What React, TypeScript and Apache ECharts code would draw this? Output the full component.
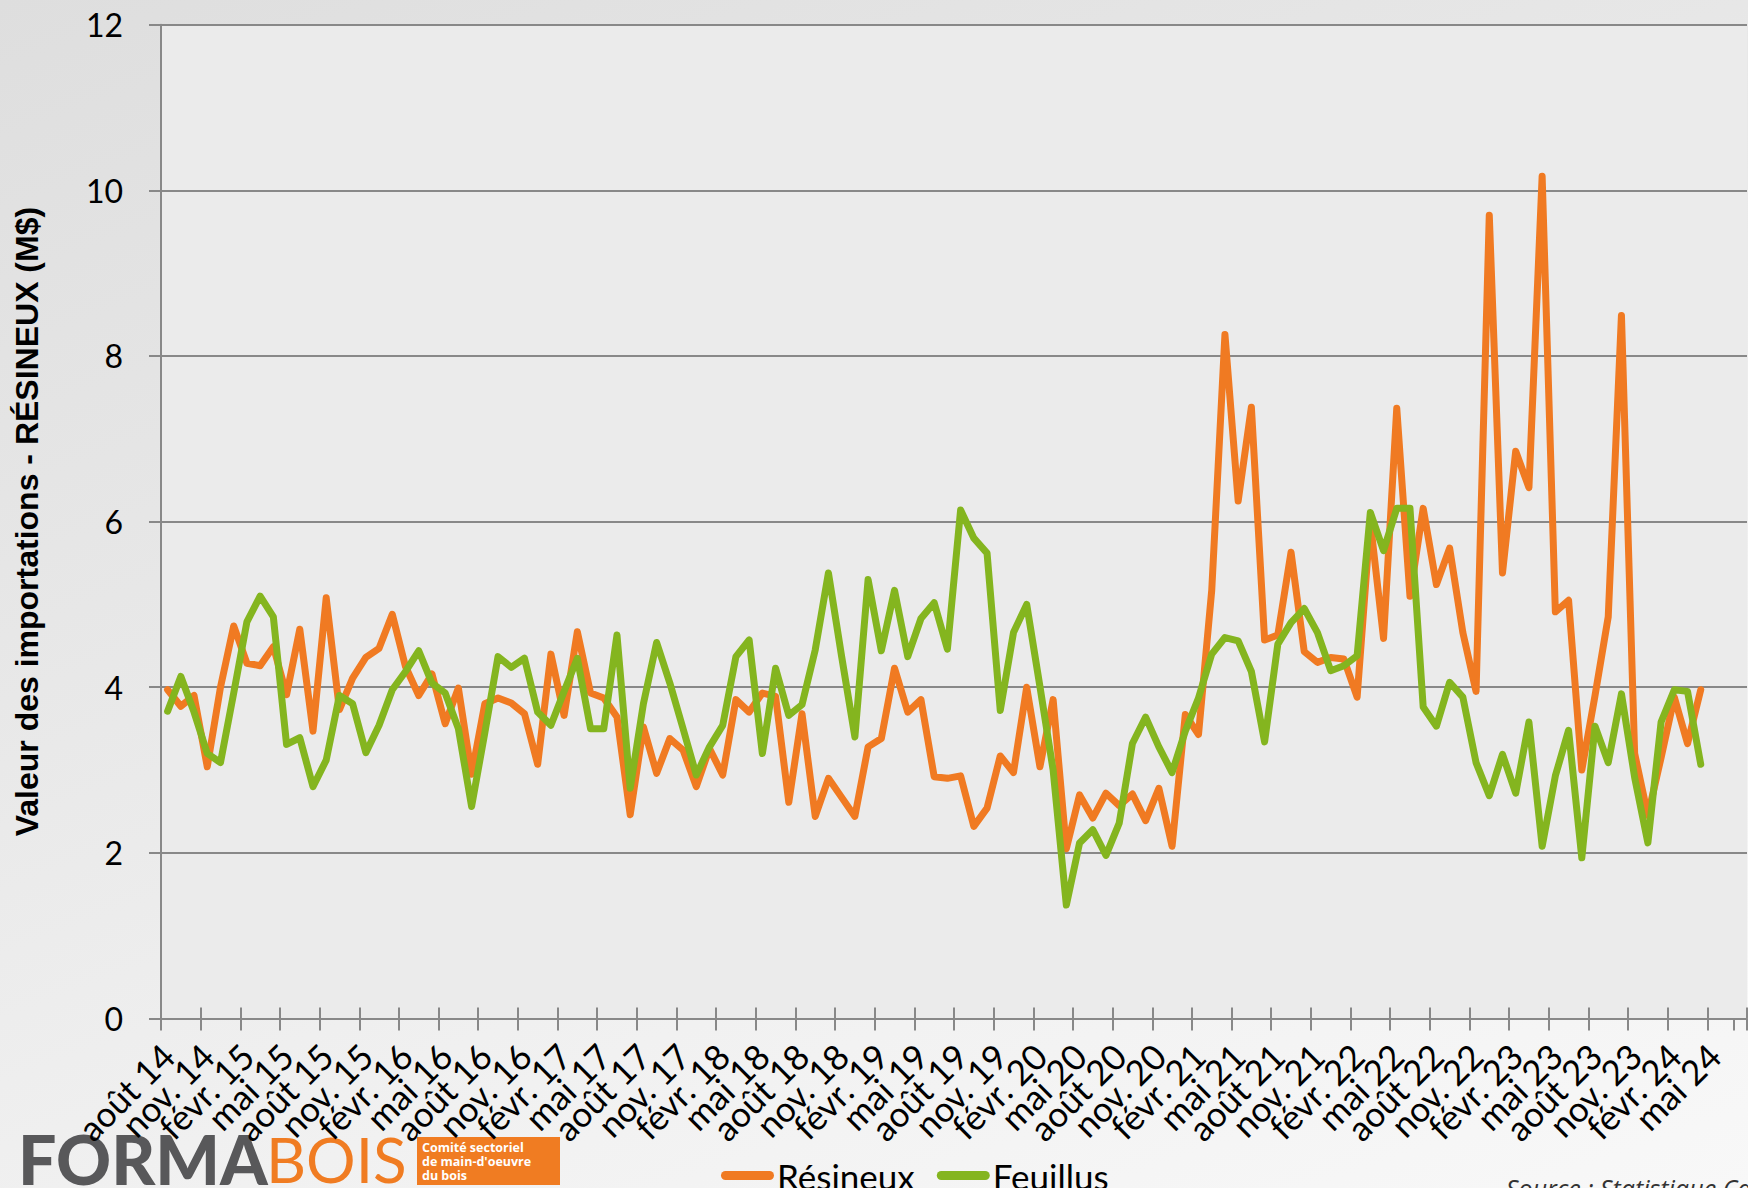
import React, { useEffect, useRef } from "react";
import * as echarts from "echarts";

// Month abbreviations (French) used for the category axis
const MONTHS = ["janv.", "févr.", "mars", "avr.", "mai", "juin", "juil.", "août", "sept.", "oct.", "nov.", "déc."];
// Axis runs from août 14 to juil. 24 (120 monthly categories)
const START_YEAR = 14;
const START_MONTH_INDEX = 7;
const CATEGORY_COUNT = 120;
const LABEL_EVERY = 3;
const LAST_LABEL_INDEX = 117; // "mai 24"

// Résineux (M$), août 2014 → avr. 2024
const resineux = [
  3.97, 3.77, 3.9, 3.04, 4.0, 4.74, 4.29, 4.26, 4.49, 3.91,
  4.7, 3.47, 5.08, 3.73, 4.11, 4.36, 4.47, 4.88, 4.25, 3.9,
  4.16, 3.56, 3.99, 2.95, 3.8, 3.87, 3.81, 3.68, 3.07, 4.4,
  3.66, 4.67, 3.93, 3.87, 3.64, 2.46, 3.52, 2.96, 3.38, 3.24,
  2.8, 3.26, 2.94, 3.85, 3.7, 3.93, 3.89, 2.61, 3.68, 2.44,
  2.9, 2.67, 2.44, 3.28, 3.38, 4.23, 3.7, 3.85, 2.92, 2.9,
  2.93, 2.32, 2.54, 3.17, 2.97, 4.0, 3.04, 3.85, 2.05, 2.7,
  2.42, 2.72, 2.57, 2.71, 2.39, 2.78, 2.08, 3.67, 3.43, 5.17,
  8.26, 6.25, 7.38, 4.57, 4.63, 5.63, 4.43, 4.3, 4.36, 4.34,
  3.88, 6.0, 4.59, 7.37, 5.1, 6.16, 5.24, 5.68, 4.66, 3.95,
  9.7, 5.38, 6.85, 6.41, 10.17, 4.91, 5.05, 3.0, 3.9, 4.85,
  8.49, 3.2, 2.45, 3.15, 3.88, 3.32, 3.97,
];

// Feuillus (M$), août 2014 → avr. 2024
const feuillus = [
  3.71, 4.13, 3.7, 3.2, 3.09, 3.93, 4.79, 5.1, 4.85, 3.31,
  3.39, 2.8, 3.12, 3.9, 3.8, 3.21, 3.54, 3.97, 4.19, 4.44,
  4.05, 3.93, 3.5, 2.56, 3.45, 4.37, 4.24, 4.35, 3.7, 3.54,
  3.95, 4.35, 3.5, 3.5, 4.63, 2.78, 3.8, 4.54, 4.05, 3.5,
  2.94, 3.28, 3.54, 4.37, 4.57, 3.2, 4.23, 3.66, 3.79, 4.45,
  5.38, 4.37, 3.4, 5.3, 4.44, 5.17, 4.37, 4.83, 5.02, 4.46,
  6.14, 5.8, 5.62, 3.72, 4.66, 5.0, 4.01, 3.0, 1.37, 2.12,
  2.28, 1.97, 2.36, 3.32, 3.64, 3.28, 2.97, 3.47, 3.87, 4.4,
  4.6, 4.56, 4.19, 3.34, 4.52, 4.78, 4.95, 4.66, 4.2, 4.26,
  4.38, 6.11, 5.65, 6.16, 6.16, 3.76, 3.53, 4.06, 3.88, 3.09,
  2.69, 3.19, 2.72, 3.58, 2.08, 2.93, 3.48, 1.94, 3.53, 3.09,
  3.92, 2.91, 2.12, 3.58, 3.97, 3.95, 3.07,
];

const Y_MIN = 0;
const Y_MAX = 12;
const Y_STEP = 2;

const SERIES_NAMES = ["Résineux", "Feuillus"];
const TITLE_Y = "Valeur des importations - RÉSINEUX (M$)";
const SOURCE = "Source : Statistique Canada";
const LOGO_LINES = ["Comité sectoriel", "de main-d'oeuvre", "du bois"];

const categories: string[] = [];
for (let i = 0; i < CATEGORY_COUNT; i++) {
  const m = (START_MONTH_INDEX + i) % 12;
  const y = START_YEAR + Math.floor((START_MONTH_INDEX + i) / 12);
  categories.push(`${MONTHS[m]} ${y}`);
}

const ORANGE = "#f07a22";
const GREEN = "#84b51f";
const AXIS_GRAY = "#888888";

export default function App() {
  const ref = useRef<HTMLDivElement>(null);

  useEffect(() => {
    if (!ref.current) return;
    const chart = echarts.init(ref.current, undefined, { renderer: "svg" });
    const axisLine = { color: AXIS_GRAY, width: 2 };
    const labelFormatter = (value: string, index: number) =>
      index % LABEL_EVERY === 0 && index <= LAST_LABEL_INDEX ? value : "";
    const option: any = {
      animation: false,
      backgroundColor: "transparent",
      textStyle: { fontFamily: "Lato" },
      grid: {
        left: 161,
        right: 1,
        top: 24.7,
        bottom: 169.5,
        show: true,
        backgroundColor: "#ebebeb",
        borderWidth: 0,
        containLabel: false,
        outerBoundsMode: "none",
      },
      legend: {
        left: 716,
        top: 1153,
        itemWidth: 53,
        itemHeight: 9,
        itemGap: 22,
        icon: "path://M4.5,0 H48.5 A4.5,4.5 0 0 1 48.5,9 H4.5 A4.5,4.5 0 0 1 4.5,0 Z",
        textStyle: { fontSize: 35, color: "#000", fontFamily: "Lato", padding: [0, 0, 0, -2] },
        data: SERIES_NAMES,
      },
      xAxis: [
        {
          type: "category",
          data: categories,
          boundaryGap: true,
          axisLine: { show: true, lineStyle: axisLine },
          axisTick: { show: true, interval: 2, length: 12, lineStyle: axisLine },
          axisLabel: {
            interval: 0,
            formatter: labelFormatter,
            rotate: 45,
            fontSize: 35,
            color: "#000",
            margin: 31,
            fontFamily: "Lato",
            hideOverlap: false,
          },
          splitLine: { show: false },
        },
        {
          type: "category",
          data: categories,
          position: "bottom",
          boundaryGap: true,
          axisLine: { show: false },
          axisTick: { show: true, inside: true, interval: 2, length: 11, lineStyle: axisLine },
          axisLabel: { show: false },
          splitLine: { show: false },
        },
      ],
      yAxis: {
        type: "value",
        min: Y_MIN,
        max: Y_MAX,
        interval: Y_STEP,
        axisLine: { show: true, lineStyle: axisLine },
        axisTick: { show: true, length: 12, lineStyle: axisLine },
        splitLine: { show: true, lineStyle: { color: AXIS_GRAY, width: 2 } },
        axisLabel: { fontSize: 32, color: "#000", margin: 38, fontFamily: "Lato" },
        name: TITLE_Y,
        nameLocation: "middle",
        nameGap: 118,
        nameRotate: 90,
        nameTextStyle: {
          fontFamily: "Liberation Sans",
          fontWeight: "bold",
          fontSize: 32,
          color: "#000",
        },
      },
      series: [
        {
          name: SERIES_NAMES[0],
          type: "line",
          data: resineux,
          symbol: "none",
          lineStyle: { color: ORANGE, width: 7, cap: "round", join: "round" },
          itemStyle: { color: ORANGE },
        },
        {
          name: SERIES_NAMES[1],
          type: "line",
          data: feuillus,
          symbol: "none",
          lineStyle: { color: GREEN, width: 7, cap: "round", join: "round" },
          itemStyle: { color: GREEN },
        },
      ],
      graphic: [
        {
          type: "text",
          left: 18,
          top: 1124,
          style: { text: "FORMA", font: "900 68px Lato", fill: "#58585a" },
        },
        {
          type: "text",
          left: 266,
          top: 1128,
          style: { text: "BOIS", font: "400 62px Lato", fill: "#f07c22" },
        },
        {
          type: "rect",
          shape: { x: 417, y: 1137, width: 143, height: 48 },
          style: { fill: "#f07c22" },
        },
        {
          type: "text",
          x: 422,
          y: 1140,
          style: {
            text: LOGO_LINES.join("\n"),
            font: "bold 12.5px 'Open Sans'",
            lineHeight: 14,
            fill: "#ffffff",
          },
        },
        {
          type: "text",
          x: 1506,
          y: 1175,
          style: { text: SOURCE, font: "italic 25px 'Open Sans'", fill: "#333333" },
        },
      ],
    };
    chart.setOption(option);
    return () => chart.dispose();
  }, []);

  return (
    <div
      style={{
        position: "fixed",
        left: 0,
        top: 0,
        width: 1748,
        height: 1188,
        overflow: "hidden",
        background:
          "linear-gradient(160deg, #dedede 0%, #e7e7e7 35%, #f1f1f1 70%, #f8f8f8 100%)",
      }}
    >
      <div ref={ref} style={{ width: 1748, height: 1188 }} />
    </div>
  );
}
